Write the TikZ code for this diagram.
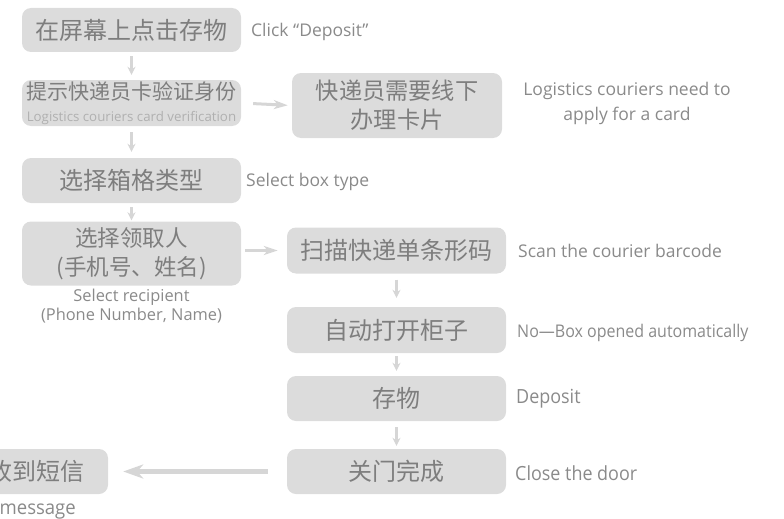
\documentclass[tikz,border=0pt]{standalone}
\usepackage{fontspec}
\setmainfont{Open Sans}
\newfontfamily\cjk{Noto Sans CJK SC}
\usetikzlibrary{arrows.meta}
\definecolor{boxfill}{HTML}{DCDCDC}
\definecolor{boxtext}{HTML}{7E7E7E}
\definecolor{labtext}{HTML}{8A8A8A}
\definecolor{subtext}{HTML}{B0B0B0}
\definecolor{arrowc}{HTML}{D6D6D6}
\tikzset{
  stepbox/.style={fill=boxfill, rounded corners=9pt, inner sep=0pt, align=center,
    text=boxtext, font=\cjk\fontsize{24}{28}\selectfont, minimum width=219pt},
  lab/.style={anchor=west, text=labtext, inner sep=0pt, font=\fontsize{17.5}{22}\selectfont},
  narrowlab/.style={lab, font=\fontsize{19.5}{22}\selectfont},
  varrow/.style={draw=arrowc, line width=2.2pt, -{Stealth[length=8pt,width=8pt]}},
  harrow/.style={draw=arrowc, line width=3pt, -{Stealth[length=14pt,width=9pt,inset=4pt]}},
  bigarrow/.style={draw=arrowc, line width=5pt, -{Stealth[length=20pt,width=14pt,inset=6pt]}},
}
\begin{document}
\begin{tikzpicture}[x=1pt,y=-1pt]
\useasboundingbox (0,0) rectangle (784,519);
% boxes
\node[stepbox, minimum height=44pt] (b1) at (131.5,30) {在屏幕上点击存物};
\node[stepbox, minimum height=46pt] (b2) at (131.5,103) {{\fontsize{21}{24}\selectfont 提示快递员卡验证身份}\\[-6pt]{\fontspec{Open Sans}\color{subtext}\fontsize{13.3}{15}\selectfont Logistics couriers card verification}};
\node[stepbox, minimum width=210pt, minimum height=65pt, font=\cjk\fontsize{23.2}{29}\selectfont] (b3) at (397,105.5) {快递员需要线下\\办理卡片};
\node[stepbox, minimum height=45pt] (b4) at (131.5,180.5) {选择箱格类型};
\node[stepbox, minimum height=64pt, font=\cjk\fontsize{22.5}{29}\selectfont] (b5) at (131.5,253.5) {选择领取人\\(手机号、姓名)};
\node[stepbox, minimum height=46pt] (b6) at (396.5,250.5) {扫描快递单条形码};
\node[stepbox, minimum height=46pt] (b7) at (396.5,330) {自动打开柜子};
\node[stepbox, minimum height=45pt] (b8) at (396.5,398.5) {存物};
\node[stepbox, minimum height=45pt] (b9) at (396.5,471.5) {关门完成};
\node[stepbox, minimum width=144pt, minimum height=45pt] (b10) at (36,471.5) {收到短信};
% labels
\node[lab] (l1) at (251,32) {Click “Deposit”};
\node[lab, align=center, anchor=center, font=\fontsize{17.5}{25}\selectfont] (l3) at (627,103.5) {Logistics couriers need to\\apply for a card};
\node[lab] (l4) at (246,182) {Select box type};
\node[lab, align=center, anchor=center, font=\fontsize{16.4}{19}\selectfont] (l5) at (131.5,306.5) {Select recipient\\(Phone Number, Name)};
\node[lab] (l6) at (518,251) {Scan the courier barcode};
\node[lab] (l7) at (517,333) {\scalebox{0.914}[1]{No—Box opened automatically}};
\node[narrowlab] (l8) at (516,399) {\scalebox{0.92}[1]{Deposit}};
\node[narrowlab] (l9) at (515,473) {\scalebox{0.92}[1]{Close the door}};
\node[narrowlab, anchor=east] (l10) at (76,510) {\scalebox{0.95}[1]{Receive message}};
% arrows
\draw[varrow, shorten <=4pt, shorten >=5pt] (b1.south) -- (b2.north);
\draw[varrow, shorten <=6pt, shorten >=6pt] (b2.south) -- (b4.north);
\draw[varrow, shorten <=4pt, shorten >=1pt] (b4.south) -- (b5.north);
\draw[harrow, shorten <=12pt, shorten >=4pt] (b2.east) -- (b3.west);
\draw[harrow, shorten <=4pt, shorten >=9pt] (b5.east) ++(0,-3) coordinate (s5) (s5) -- (b6.west |- s5);
\draw[varrow, shorten <=6pt, shorten >=9pt] (b6.south) -- (b7.north);
\draw[varrow, shorten <=3pt, shorten >=5pt] (b7.south) -- (b8.north);
\draw[varrow, shorten <=6pt, shorten >=3pt] (b8.south) -- (b9.north);
\draw[bigarrow, shorten <=19pt, shorten >=15pt] (b9.west) -- (b10.east);
\end{tikzpicture}
\end{document}
